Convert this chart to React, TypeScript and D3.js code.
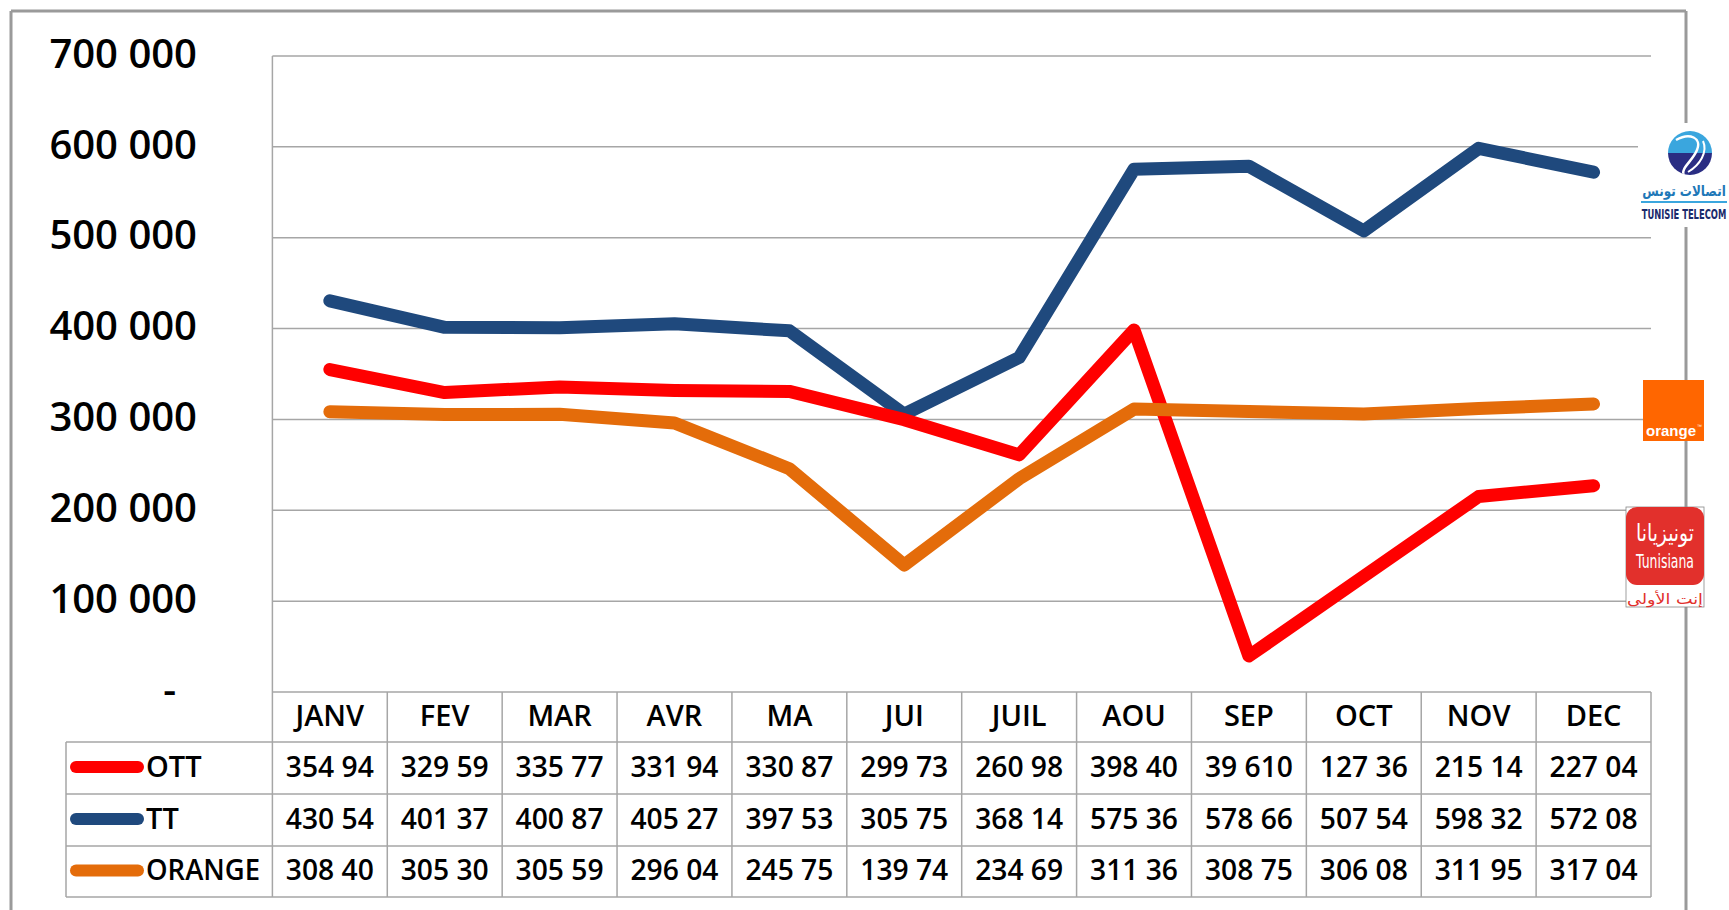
import React from 'react'
import * as d3 from 'd3'

// months in the table header
const months = ['JANV', 'FEV', 'MAR', 'AVR', 'MA', 'JUI', 'JUIL', 'AOU', 'SEP', 'OCT', 'NOV', 'DEC']

const ottValues = [354940, 329590, 335770, 331940, 330870, 299730, 260980, 398400, 39610, 127360, 215140, 227040]
const ttValues = [430540, 401370, 400870, 405270, 397530, 305750, 368140, 575360, 578660, 507540, 598320, 572080]
const orangeValues = [308400, 305300, 305590, 296040, 245750, 139740, 234690, 311360, 308750, 306080, 311950, 317040]

// cell texts exactly as printed in the data table
const ottCells = ['354 94', '329 59', '335 77', '331 94', '330 87', '299 73', '260 98', '398 40', '39 610', '127 36', '215 14', '227 04']
const ttCells = ['430 54', '401 37', '400 87', '405 27', '397 53', '305 75', '368 14', '575 36', '578 66', '507 54', '598 32', '572 08']
const orangeCells = ['308 40', '305 30', '305 59', '296 04', '245 75', '139 74', '234 69', '311 36', '308 75', '306 08', '311 95', '317 04']

const yTicks = [0, 100000, 200000, 300000, 400000, 500000, 600000, 700000]

const series = [
    { name: 'OTT', color: '#ff0000', values: ottValues, cells: ottCells },
    { name: 'TT', color: '#1f497d', values: ttValues, cells: ttCells },
    { name: 'ORANGE', color: '#e46c0a', values: orangeValues, cells: orangeCells },
]
// drawing order: TT below, then OTT, ORANGE on top
const drawOrder = ['TT', 'OTT', 'ORANGE']

const W = 1729
const H = 910
const plotLeft = 272.4
const plotRight = 1651
const plotTop = 56
const plotBottom = 692
const rowBottoms = [742, 794, 846, 897]
const legendLeft = 66
const gridColor = '#a6a6a6'
const tableFont = "'Open Sans', sans-serif"

const locale = d3.formatLocale({ decimal: ',', thousands: ' ', grouping: [3], currency: ['', ''] })
const fmt = locale.format(',d')

export default function App() {
    const x = d3.scaleBand().domain(months).range([plotLeft, plotRight]).padding(0)
    const y = d3.scaleLinear().domain([0, 700000]).range([plotBottom, plotTop])
    const bw = x.bandwidth()
    const cx = (m: string) => (x(m) as number) + bw / 2

    const line = d3.line<number>()
        .x((_, i) => cx(months[i]))
        .y(v => y(v))

    const rows = [plotBottom, ...rowBottoms]

    return (
        <div style={{ position: 'absolute', left: 0, top: 0 }}>
            <svg width={W} height={H} style={{ display: 'block', background: '#fff' }}>
                {/* outer frame */}
                <g stroke="#9a9a9a" strokeWidth={3} fill="none">
                    <line x1={11} y1={11} x2={1686} y2={11} />
                    <line x1={11} y1={11} x2={11} y2={H} />
                    <line x1={1686} y1={11} x2={1686} y2={H} />
                </g>

                {/* gridlines + y labels */}
                {yTicks.map(t => (
                    <g key={t}>
                        {t > 0 && (
                            <line x1={plotLeft} x2={plotRight} y1={y(t)} y2={y(t)} stroke={gridColor} strokeWidth={1.5} />
                        )}
                        <text
                            x={t === 0 ? 176 : 197}
                            y={y(t) + 1}
                            textAnchor="end"
                            dominantBaseline="middle"
                            style={{ fontFamily: "'Open Sans', sans-serif", fontWeight: 600, fontSize: 40 }}
                            fill="#000"
                        >
                            {t === 0 ? '-' : fmt(t)}
                        </text>
                    </g>
                ))}
                <line x1={plotLeft} x2={plotLeft} y1={plotTop} y2={rowBottoms[3]} stroke={gridColor} strokeWidth={1.5} />

                {/* data table */}
                <g stroke={gridColor} strokeWidth={1.5}>
                    {rows.map((r, i) => (
                        <line key={'h' + i} x1={i === 0 ? plotLeft : legendLeft} x2={plotRight} y1={r} y2={r} />
                    ))}
                    {months.map(m => (
                        <line key={'v' + m} x1={(x(m) as number) + bw} x2={(x(m) as number) + bw} y1={plotBottom} y2={rowBottoms[3]} />
                    ))}
                    <line x1={legendLeft} x2={legendLeft} y1={rowBottoms[0]} y2={rowBottoms[3]} />
                </g>
                <g style={{ fontFamily: tableFont, fontWeight: 600, fontSize: 29 }} fill="#000">
                    {months.map(m => (
                        <text key={m} x={cx(m)} y={(plotBottom + rowBottoms[0]) / 2 + 1} textAnchor="middle" dominantBaseline="middle">{m}</text>
                    ))}
                    {series.map((s, si) => {
                        const top = rowBottoms[si]
                        const bot = rowBottoms[si + 1]
                        const mid = (top + bot) / 2 + 1
                        return (
                            <g key={s.name}>
                                <line x1={76} x2={138} y1={mid - 2} y2={mid - 2} stroke={s.color} strokeWidth={12} strokeLinecap="round" />
                                <text x={146} y={mid} dominantBaseline="middle" textLength={s.name === 'ORANGE' ? 114 : undefined} lengthAdjust="spacingAndGlyphs">{s.name}</text>
                                {s.cells.map((c, i) => (
                                    <text key={i} x={cx(months[i])} y={mid} textAnchor="middle" dominantBaseline="middle" textLength={88} lengthAdjust="spacingAndGlyphs">{c}</text>
                                ))}
                            </g>
                        )
                    })}
                </g>

                {/* lines */}
                {drawOrder.map(n => {
                    const s = series.find(d => d.name === n)!
                    return (
                        <path key={n} d={line(s.values) || ''} fill="none" stroke={s.color} strokeWidth={13}
                            strokeLinecap="round" strokeLinejoin="round" />
                    )
                })}

                {/* Tunisie Telecom logo */}
                <g>
                    <rect x={1638} y={123} width={91} height={104} fill="#fff" />
                    <clipPath id="ttc"><circle cx={1690} cy={153} r={22} /></clipPath>
                    <g clipPath="url(#ttc)">
                        <rect x={1668} y={131} width={44} height={22} fill="#3aa6de" />
                        <rect x={1668} y={153} width={44} height={22} fill="#2a2d83" />
                        <path d="M1676,140 C1690,132 1702,138 1697,150 C1692,162 1680,168 1684,176" stroke="#fff" strokeWidth={2.5} fill="none" />
                        <path d="M1703,141 C1708,152 1700,165 1688,172" stroke="#fff" strokeWidth={2} fill="none" />
                    </g>
                    <text transform="translate(1684,196) scale(0.8,1)" textAnchor="middle" fill="#1f78b8"
                        style={{ fontFamily: "'DejaVu Sans', sans-serif", fontWeight: 700, fontSize: 15 }}>اتصالات تونس</text>
                    <line x1={1641} x2={1727} y1={202} y2={202} stroke="#3aa6de" strokeWidth={2} />
                    <text transform="translate(1684,219) scale(0.6,1)" textAnchor="middle" fill="#1b2a6b"
                        style={{ fontFamily: "'DejaVu Sans', sans-serif", fontWeight: 700, fontSize: 14 }}>TUNISIE TELECOM</text>
                </g>

                {/* Orange logo */}
                <g>
                    <rect x={1643} y={380} width={61} height={61} fill="#ff6600" />
                    <text x={1646} y={436} fill="#fff" style={{ fontFamily: "'Liberation Sans', Arial, sans-serif", fontWeight: 700, fontSize: 15 }}>orange</text>
                    <text x={1697} y={428} fill="#fff" style={{ fontFamily: "'Liberation Sans', Arial, sans-serif", fontSize: 5 }}>™</text>
                </g>

                {/* Tunisiana logo */}
                <g>
                    <rect x={1626} y={507} width={78} height={100} fill="#fff" stroke="#888" strokeWidth={0.8} />
                    <rect x={1626} y={507} width={78} height={78} rx={11} fill="#e2302c" />
                    <text x={1636} y={541} fill="#fff" textLength={58} lengthAdjust="spacingAndGlyphs"
                        style={{ fontFamily: "'DejaVu Sans', sans-serif", fontSize: 24 }}>تونيزيانا</text>
                    <text x={1636} y={568} fill="#fff" textLength={58} lengthAdjust="spacingAndGlyphs"
                        style={{ fontFamily: "'DejaVu Sans', sans-serif", fontSize: 20 }}>Tunisiana</text>
                    <text x={1627} y={604} fill="#e2302c" textLength={76} lengthAdjust="spacingAndGlyphs"
                        style={{ fontFamily: "'DejaVu Sans', sans-serif", fontSize: 14 }}>إنت الأولى</text>
                </g>
            </svg>
        </div>
    )
}
